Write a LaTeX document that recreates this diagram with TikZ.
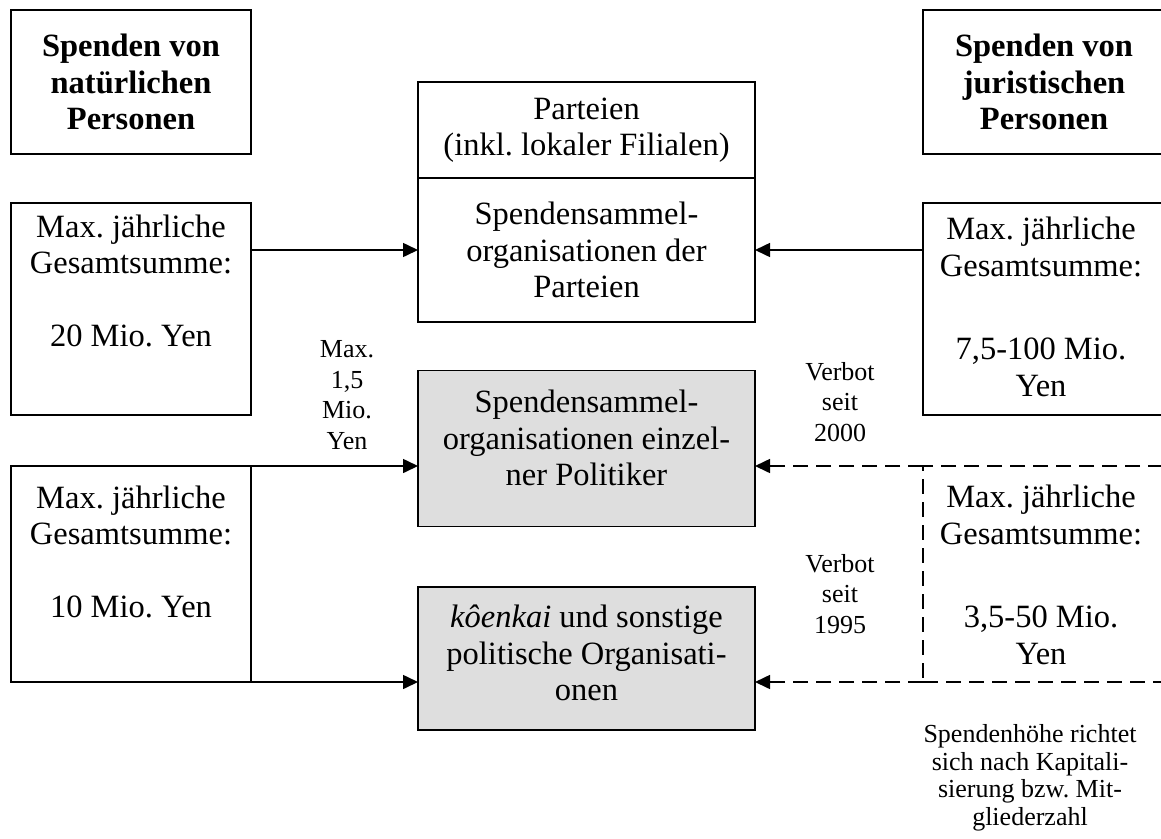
\documentclass[tikz,border=0pt]{standalone}
\usepackage{fontspec}
\setmainfont{Liberation Serif}
\usetikzlibrary{arrows.meta}
\frenchspacing
\begin{document}
\begin{tikzpicture}[x=1pt,y=-1pt,
  every node/.style={inner sep=0pt, outer sep=0pt},
  frame/.style={draw=black, line width=1.6pt, rectangle},
  shaded/.style={frame, fill=black!13},
  dframe/.style={frame, dash pattern=on 15pt off 8pt},
  big/.style={font=\fontsize{32.5}{36.5}\selectfont, align=center},
  bold/.style={font=\fontsize{32.5}{36.5}\selectfont\bfseries, align=center},
  small/.style={font=\fontsize{26}{30.5}\selectfont, align=center},
  note/.style={font=\fontsize{26}{27.5}\selectfont, align=center},
  flow/.style={line width=1.6pt, -{Triangle[length=15pt,width=14pt]}},
  dflow/.style={flow, dash pattern=on 15pt off 8pt},
]
\useasboundingbox (0,0) rectangle (1161,838);
\clip (0,0) rectangle (1161,838);

% headings
\node[frame, bold, minimum width=240pt, minimum height=144pt] (lt) at (131,82)
  {Spenden von\\natürlichen\\Personen};
\node[frame, bold, minimum width=242pt, minimum height=144pt] (rt) at (1044,82)
  {Spenden von\\juristischen\\Personen};

% party box, split in two parts
\node[frame, big, minimum width=337pt, minimum height=96pt] (pu) at (586.5,130)
  {Parteien\\(inkl. lokaler Filialen)};
\node[frame, big, minimum width=337pt, minimum height=144pt] (pl) at (586.5,250)
  {Spendensammel-\\organisationen der\\Parteien};

% donor limits, natural persons
\node[frame, minimum width=240pt, minimum height=212pt] (lm) at (131,309) {};
\node[big] (lmt) at (131,281)
  {Max. jährliche\\Gesamtsumme:\\[36.5pt]20 Mio. Yen};
\node[frame, minimum width=240pt, minimum height=216pt] (ll) at (131,574) {};
\node[big] (llt) at (131,552)
  {Max. jährliche\\Gesamtsumme:\\[36.5pt]10 Mio. Yen};

% donor limits, juristic persons
\node[frame, minimum width=242pt, minimum height=212pt] (rm) at (1044,309) {};
\node[big] (rmt) at (1041,307)
  {Max. jährliche\\Gesamtsumme:\\[47pt]7,5-100 Mio.\\Yen};
\node[dframe, minimum width=242pt, minimum height=216pt] (rd) at (1044,574) {};
\node[big] (rdt) at (1041,575)
  {Max. jährliche\\Gesamtsumme:\\[47pt]3,5-50 Mio.\\Yen};

% receiving organisations
\node[shaded, minimum width=337pt, minimum height=156pt] (g1) at (586.5,448.5) {};
\node[big] (g1t) at (586.5,438)
  {Spendensammel-\\organisationen einzel-\\ner Politiker};
\node[shaded, minimum width=337pt, minimum height=143pt] (g2) at (586.5,658.5) {};
\node[big] (g2t) at (586.5,653)
  {\textit{kôenkai} und sonstige\\politische Organisati-\\onen};

% side remarks
\node[small] (cap) at (347,395) {Max.\\1,5\\Mio.\\Yen};
\node[small] (ban1) at (840,402) {Verbot\\seit\\2000};
\node[small] (ban2) at (840,594) {Verbot\\seit\\1995};
\node[note] (rem) at (1030,778)
  {Spendenhöhe richtet\\sich nach Kapitali-\\sierung bzw. Mit-\\gliederzahl};

% flows
\draw[flow] (lm.east |- pl.west) -- (pl.west);
\draw[flow] (rm.west |- pl.east) -- (pl.east);
\draw[flow] (ll.north east) -- (ll.north east -| g1.west);
\draw[flow] (ll.south east) -- (ll.south east -| g2.west);
\draw[dflow] (rd.north west) -- (rd.north west -| g1.east);
\draw[dflow] (rd.south west) -- (rd.south west -| g2.east);
\end{tikzpicture}
\end{document}
